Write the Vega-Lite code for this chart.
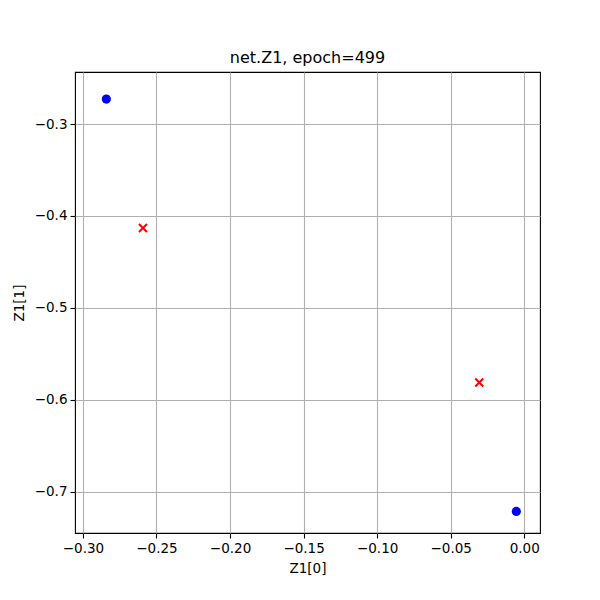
{
  "$schema": "https://vega.github.io/schema/vega-lite/v6.json",
  "width": 465,
  "height": 461,
  "autosize": "none",
  "padding": {"left": 75, "top": 72, "right": 60, "bottom": 67},
  "background": "white",
  "title": {"text": "net.Z1, epoch=499", "font": "DejaVu Sans", "fontSize": 16, "fontWeight": "normal", "color": "black", "anchor": "middle", "offset": 6},
  "data": {"values": [
    {"z0": -0.2841, "z1": -0.2728, "label": "circle"},
    {"z0": -0.0054, "z1": -0.7215, "label": "circle"},
    {"z0": -0.2592, "z1": -0.4132, "label": "x"},
    {"z0": -0.0306, "z1": -0.5812, "label": "x"}
  ]},
  "config": {
    "view": {"stroke": "black", "strokeWidth": 1.1},
    "axis": {
      "labelFont": "DejaVu Sans", "labelFontSize": 13.5, "labelColor": "black",
      "titleFont": "DejaVu Sans", "titleFontSize": 13.5, "titleFontWeight": "normal", "titleColor": "black",
      "domain": false, "tickColor": "black", "tickSize": 5, "tickWidth": 1.1,
      "grid": true, "gridColor": "#b0b0b0", "gridWidth": 1.1,
      "labelPadding": 3
    }
  },
  "encoding": {
    "x": {"field": "z0", "type": "quantitative", "title": "Z1[0]",
      "scale": {"domain": [-0.3054, 0.0107], "nice": false, "zero": false},
      "axis": {"values": [-0.3, -0.25, -0.2, -0.15, -0.1, -0.05, 0], "format": ".2f", "titlePadding": 7, "labelFlush": false}},
    "y": {"field": "z1", "type": "quantitative", "title": "Z1[1]",
      "scale": {"domain": [-0.745, -0.2434], "nice": false, "zero": false},
      "axis": {"values": [-0.7, -0.6, -0.5, -0.4, -0.3], "format": ".1f", "titlePadding": 8, "labelFlush": false}}
  },
  "layer": [
    {
      "transform": [{"filter": "datum.label == 'circle'"}],
      "mark": {"type": "point", "shape": "circle", "filled": true, "color": "blue", "opacity": 1, "size": 85}
    },
    {
      "transform": [{"filter": "datum.label == 'x'"}],
      "mark": {"type": "point", "shape": "M-1,-1L1,1M-1,1L1,-1", "filled": false, "color": "red", "opacity": 1, "size": 64, "strokeWidth": 2}
    }
  ]
}
